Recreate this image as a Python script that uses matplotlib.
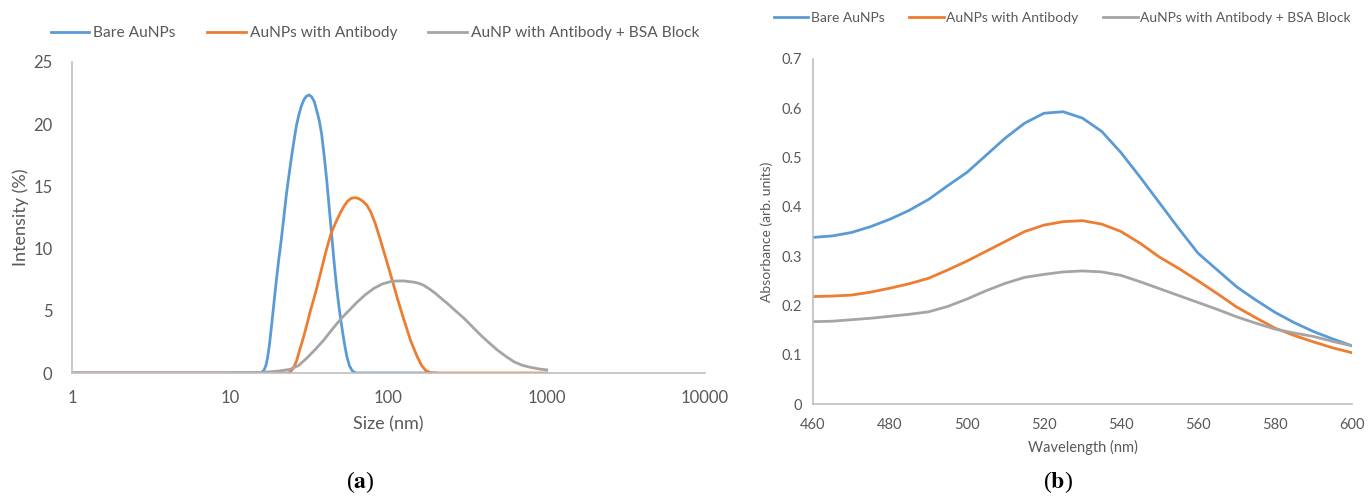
import matplotlib
matplotlib.use("Agg")
import matplotlib.pyplot as plt
from matplotlib.ticker import FixedLocator, FixedFormatter, NullLocator

# ---------------- data (a): DLS size distribution ----------------
blue_size = [1, 10, 15.5, 16.3, 16.8, 17.2, 17.7, 18.2, 18.8, 19.5, 20.2, 21.0, 21.8,
             22.6, 23.5, 24.4, 25.3, 26.2, 27.2, 28.2, 29.3, 30.3, 31.5, 32.7, 34.0,
             35.2, 36.5, 37.8, 39.2, 40.7, 42.2, 43.8, 45.4, 47.1, 48.9, 50.7, 52.6,
             54.6, 56.6, 58.8, 61, 63, 200]
blue_int = [0, 0, 0, 0.2, 0.6, 1.2, 2.3, 3.7, 5.4, 7.3, 9.0, 10.7, 12.5,
            14.3, 15.9, 17.4, 18.7, 19.9, 20.8, 21.5, 22.0, 22.25, 22.35, 22.2, 21.8,
            21.1, 20.3, 19.2, 17.5, 15.5, 13.3, 11.0, 8.8, 6.8, 5.1, 3.7, 2.4,
            1.3, 0.6, 0.2, 0.05, 0, 0]

orange_size = [1, 20, 23.4, 24.4, 25.5, 26.3, 27.1, 28.3, 29.5, 30.8, 32.1, 33.8, 35.5,
               38, 40.5, 43.3, 46.4, 49.7, 52.3, 55, 58.3, 61.8, 65.3, 69, 72.9, 76.9,
               82.6, 88.9, 96.8, 105.4, 115, 125, 138, 152, 162, 172, 184, 195, 1000]
orange_int = [0, 0, 0, 0.2, 0.6, 1.0, 1.6, 2.4, 3.2, 4.1, 5.0, 6.0, 7.0,
              8.5, 9.9, 11.2, 12.1, 12.9, 13.4, 13.8, 14.05, 14.1, 14.0, 13.8, 13.5, 13.0,
              12.0, 10.7, 9.1, 7.5, 5.8, 4.3, 2.6, 1.3, 0.6, 0.2, 0.03, 0, 0]

gray_size = [1, 10, 12.7, 16, 20, 24, 27, 30.5, 34.5, 39, 44, 49.6, 56, 63.4, 71.5,
             80.8, 91, 103, 114, 125, 135, 145, 156, 167, 184, 198, 213, 235, 265, 300,
             340, 382, 430, 487, 550, 621, 700, 792, 890, 1000]
gray_int = [0, 0, 0.02, 0.05, 0.15, 0.3, 0.6, 1.2, 1.9, 2.65, 3.5, 4.3, 5.0, 5.7, 6.3,
            6.8, 7.15, 7.35, 7.4, 7.4, 7.35, 7.3, 7.2, 7.05, 6.7, 6.4, 6.05, 5.6, 5.0, 4.4,
            3.7, 3.05, 2.45, 1.85, 1.35, 0.9, 0.62, 0.45, 0.33, 0.25]

size_ticks = [1, 10, 100, 1000, 10000]
size_tick_labels = ["1", "10", "100", "1000", "10000"]
int_ticks = [0, 5, 10, 15, 20, 25]

labels_a = ["Bare AuNPs", "AuNPs with Antibody", "AuNP with Antibody + BSA Block"]

# ---------------- data (b): UV-Vis absorbance ----------------
wavelength = [460, 465, 470, 475, 480, 485, 490, 495, 500, 505, 510, 515, 520, 525,
              530, 535, 540, 545, 550, 555, 560, 565, 570, 575, 580, 585, 590, 595, 600]
abs_bare = [0.338, 0.341, 0.348, 0.360, 0.375, 0.393, 0.415, 0.443, 0.470, 0.505, 0.540,
            0.570, 0.590, 0.593, 0.580, 0.553, 0.510, 0.460, 0.408, 0.356, 0.306, 0.272,
            0.238, 0.211, 0.186, 0.165, 0.147, 0.132, 0.118]
abs_ab = [0.218, 0.219, 0.221, 0.227, 0.235, 0.244, 0.255, 0.272, 0.290, 0.310, 0.330,
          0.350, 0.363, 0.370, 0.372, 0.365, 0.350, 0.326, 0.298, 0.275, 0.250, 0.224,
          0.197, 0.175, 0.154, 0.139, 0.126, 0.114, 0.104]
abs_bsa = [0.167, 0.168, 0.171, 0.174, 0.178, 0.182, 0.187, 0.198, 0.213, 0.230, 0.245,
           0.257, 0.263, 0.268, 0.270, 0.268, 0.261, 0.248, 0.234, 0.220, 0.206, 0.192,
           0.177, 0.164, 0.152, 0.144, 0.137, 0.127, 0.118]

wl_ticks = [460, 480, 500, 520, 540, 560, 580, 600]
abs_ticks = [0, 0.1, 0.2, 0.3, 0.4, 0.5, 0.6, 0.7]
abs_tick_labels = ["0", "0.1", "0.2", "0.3", "0.4", "0.5", "0.6", "0.7"]

labels_b = ["Bare AuNPs", "AuNPs with Antibody", "AuNPs with Antibody + BSA Block"]

# ---------------- style ----------------
BLUE, ORANGE, GRAY = "#5B9BD5", "#ED7D31", "#A5A5A5"
TXT = "#595959"
SPINE = "#BFBFBF"
LW = 2.0
plt.rcParams["font.family"] = ["Lato", "DejaVu Sans"]
plt.rcParams["mathtext.fontset"] = "stix"

fig = plt.figure(figsize=(13.68, 5.0), dpi=100)

# ---------------- panel (a) ----------------
axa = fig.add_axes([72 / 1368, 1 - 373 / 500, 633 / 1368, 311 / 500])
la = []
la += axa.plot(blue_size, blue_int, color=BLUE, lw=LW, solid_joinstyle="round")
la += axa.plot(orange_size, orange_int, color=ORANGE, lw=LW, solid_joinstyle="round")
la += axa.plot(gray_size, gray_int, color=GRAY, lw=LW, solid_joinstyle="round")
axa.set_xscale("log")
axa.set_xlim(1, 10000)
axa.set_ylim(0, 25)
axa.xaxis.set_major_locator(FixedLocator(size_ticks))
axa.xaxis.set_major_formatter(FixedFormatter(size_tick_labels))
axa.xaxis.set_minor_locator(NullLocator())
axa.set_yticks(int_ticks)
axa.tick_params(axis="both", length=0, labelsize=12, labelcolor=TXT)
axa.tick_params(axis="x", pad=12)
axa.tick_params(axis="y", pad=14)
for s in ["top", "right"]:
    axa.spines[s].set_visible(False)
for s in ["left", "bottom"]:
    axa.spines[s].set_color(SPINE)
    axa.spines[s].set_linewidth(1.2)
axa.set_xlabel("Size (nm)", fontsize=13, color=TXT, labelpad=8)
axa.set_ylabel("Intensity (%)", fontsize=13, color=TXT, labelpad=3)
axa.legend(la, labels_a, ncol=3, frameon=False, fontsize=11.2, labelcolor=TXT,
           loc="center left", bbox_to_anchor=(-0.056, 1.093, 1, 0.0),
           handlelength=2.5, handletextpad=0.25, columnspacing=2.0)

# ---------------- panel (b) ----------------
axb = fig.add_axes([813 / 1368, 1 - 404 / 500, 539 / 1368, 345 / 500])
lb = []
lb += axb.plot(wavelength, abs_bare, color=BLUE, lw=LW, solid_joinstyle="round")
lb += axb.plot(wavelength, abs_ab, color=ORANGE, lw=LW, solid_joinstyle="round")
lb += axb.plot(wavelength, abs_bsa, color=GRAY, lw=LW, solid_joinstyle="round")
axb.set_xlim(460, 600)
axb.set_ylim(0, 0.7)
axb.set_xticks(wl_ticks)
axb.set_yticks(abs_ticks)
axb.set_yticklabels(abs_tick_labels)
axb.tick_params(axis="both", length=0, labelsize=10.5, labelcolor=TXT)
axb.tick_params(axis="x", pad=10)
axb.tick_params(axis="y", pad=8)
for s in ["top", "right"]:
    axb.spines[s].set_visible(False)
for s in ["left", "bottom"]:
    axb.spines[s].set_color(SPINE)
    axb.spines[s].set_linewidth(1.2)
axb.set_xlabel("Wavelength (nm)", fontsize=10.5, color=TXT, labelpad=6)
axb.set_ylabel("Absorbance (arb. units)", fontsize=10, color=TXT, labelpad=6)
axb.legend(lb, labels_b, ncol=3, frameon=False, fontsize=10, labelcolor=TXT,
           loc="center left", bbox_to_anchor=(-0.096, 1.12, 1, 0.0),
           handlelength=2.5, handletextpad=0.15, columnspacing=1.8)

# ---------------- panel captions ----------------
fig.text(360 / 1368, 1 - 482 / 500, r"($\mathbf{a}$)", ha="center", va="center",
         fontsize=17, family="Liberation Serif", color="black")
fig.text(1058 / 1368, 1 - 482 / 500, r"($\mathbf{b}$)", ha="center", va="center",
         fontsize=17, family="Liberation Serif", color="black")

fig.savefig("out.png", dpi=100)
